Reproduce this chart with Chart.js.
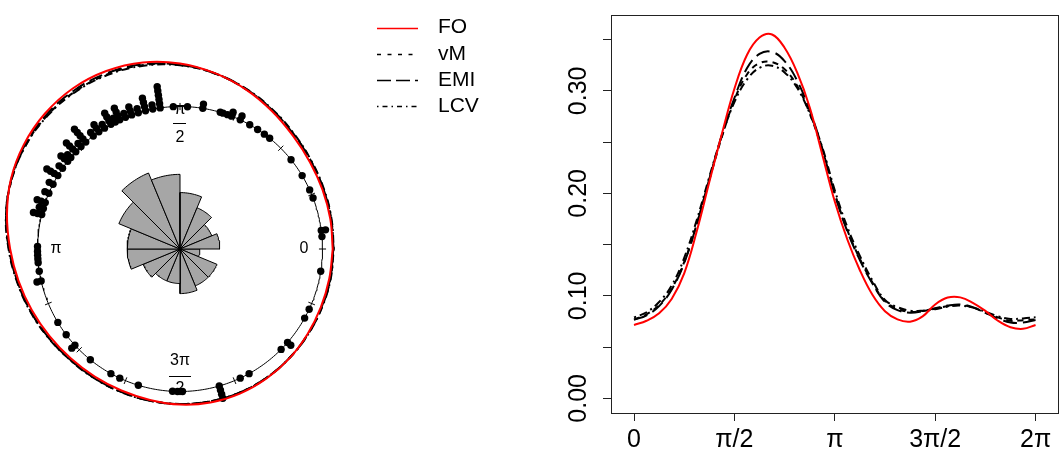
<!DOCTYPE html>
<html lang="en">
<head>
<meta charset="utf-8">
<script src="https://cdn.jsdelivr.net/npm/chart.js"></script>
<title>Circular density estimates</title>
<style>
  body { margin: 0; background: #fff; }
  #wrap { position: relative; width: 1061px; height: 456px; overflow: hidden; }
  #circ { position: absolute; left: 0; top: 0; }
  #dens { position: absolute; left: 540px; top: 0; }
</style>
</head>
<body>
<div id="wrap">
  <canvas id="circ" width="540" height="456"></canvas>
  <canvas id="dens" width="521" height="456"></canvas>
</div>
<script>
const seriesNames = ['FO', 'vM', 'EMI', 'LCV'];
const seriesColors = ['#ff0000', '#000000', '#000000', '#000000'];
const lineDash = [[], [6, 5], [14, 6], [2, 4, 8, 4]];
const keyDash = [[], [4, 6.5], [14, 5], [1.5, 4, 5, 4]];

// density estimates on a 0..2pi grid, step pi/16
const densFO  = [0.0716, 0.0757, 0.083, 0.097, 0.122, 0.163, 0.211, 0.258, 0.302, 0.335, 0.352, 0.355, 0.342,
                 0.318, 0.284, 0.238, 0.192, 0.155, 0.125, 0.101, 0.085, 0.077, 0.0748, 0.080, 0.0916, 0.0983,
                 0.0985, 0.0932, 0.0853, 0.0757, 0.0694, 0.0678, 0.0716];
const densVM  = [0.077, 0.082, 0.091, 0.107, 0.133, 0.170, 0.213, 0.255, 0.291, 0.316, 0.327, 0.328, 0.321,
                 0.305, 0.278, 0.243, 0.200, 0.164, 0.136, 0.113, 0.0948, 0.0875, 0.0843, 0.0853, 0.0875, 0.090,
                 0.091, 0.0885, 0.0837, 0.079, 0.0757, 0.0763, 0.077];
const densEMI = [0.0765, 0.081, 0.090, 0.106, 0.132, 0.170, 0.214, 0.257, 0.293, 0.322, 0.336, 0.338, 0.329,
                 0.310, 0.281, 0.244, 0.199, 0.163, 0.135, 0.112, 0.094, 0.086, 0.0835, 0.085, 0.088, 0.0905,
                 0.0915, 0.089, 0.0835, 0.078, 0.074, 0.074, 0.0765];
const densLCV = [0.079, 0.084, 0.094, 0.110, 0.137, 0.174, 0.216, 0.256, 0.289, 0.311, 0.3225, 0.3245, 0.318,
                 0.303, 0.278, 0.245, 0.203, 0.167, 0.139, 0.115, 0.096, 0.089, 0.0855, 0.0855, 0.087, 0.0895,
                 0.0905, 0.0885, 0.0845, 0.080, 0.0775, 0.078, 0.079];
const densities = [densFO, densVM, densEMI, densLCV];
const gridAngles = densFO.map((_, i) => i * Math.PI / 16);

// observations (degrees) and how many share each spot
const dotAngles = [5, 7.5, 21, 24.5, 31, 38.8, 51, 53.7, 57, 60.7, 65, 68.8, 70.5, 72.4, 73.6, 80.8, 87,
                   92.7, 98, 101, 104, 107, 109.8, 112.5, 115, 117, 119, 122, 124.7, 127.5, 131.4, 134,
                   137, 140, 142, 145.5, 149, 153, 157, 161, 163.5, 166, 179,
                   181, 182.5, 184, 185.5, 189, 193, 211, 217, 222.5, 231, 241, 245, 253, 267, 269,
                   271, 286, 295, 299, 315.2, 319, 331, 335, 351];
const dotStacks = [1, 2, 1, 1, 1, 1, 1, 1, 1, 1, 2, 2, 1, 1, 1, 2, 1,
                   1, 6, 2, 4, 2, 3, 2, 4, 2, 4, 2, 3, 2, 5, 2,
                   4, 2, 3, 2, 4, 2, 2, 3, 2, 3, 1,
                   1, 1, 1, 1, 1, 2, 1, 1, 2, 1, 1, 1, 1, 1, 1,
                   1, 4, 1, 1, 1, 2, 1, 1, 1];

// rose diagram: counts in 16 bins of 22.5 degrees, counter-clockwise from 0
const roseCounts = [4, 3, 5, 8, 14, 17, 11, 7, 7, 4, 3, 3, 5, 4, 4, 1];

const xTickValues = [0, Math.PI / 2, Math.PI, 3 * Math.PI / 2, 2 * Math.PI];
const xTickLabels = ['0', 'π/2', 'π', '3π/2', '2π'];
const yTickValues = [0, 0.05, 0.1, 0.15, 0.2, 0.25, 0.3, 0.35];
const yTickLabels = ['0.00', '', '0.10', '', '0.20', '', '0.30', ''];

const FONT = '"Liberation Sans", Arial, Helvetica, sans-serif';
const rad = d => d * Math.PI / 180;
const onCircle = (a, r) => ({ x: r * Math.cos(a), y: r * Math.sin(a) });

// ---------- circular plot ----------
const unitPx = 142.5, cx = 180, cy = 249;
const stackStep = 0.03, roseScale = 1.4, binWidth = 360 / roseCounts.length;

const leftSets = [];
densities.forEach((dens, k) => leftSets.push({
  data: gridAngles.map((t, i) => onCircle(t, 1 + dens[i])),
  borderColor: seriesColors[k], borderWidth: 2, borderDash: lineDash[k],
  tension: 0.4, pointRadius: 0
}));

const dots = [];
dotAngles.forEach((deg, i) => {
  for (let k = 0; k < dotStacks[i]; k++) dots.push(onCircle(rad(deg), 1 + k * stackStep));
});
leftSets.push({ data: dots, showLine: false, pointRadius: 3.7,
  pointBackgroundColor: '#000', pointBorderWidth: 0 });

const tickPts = [];
roseCounts.forEach((_, b) => {
  const a = rad(b * binWidth);
  tickPts.push(onCircle(a, 0.975), onCircle(a, 1.025), { x: 0, y: null });
});
leftSets.push({ data: tickPts, borderColor: '#000', borderWidth: 1, pointRadius: 0, spanGaps: false });
leftSets.push({ data: Array.from({ length: 361 }, (_, i) => onCircle(rad(i), 1)),
  borderColor: '#000', borderWidth: 1, pointRadius: 0 });

const total = roseCounts.reduce((a, b) => a + b, 0);
roseCounts.forEach((c, b) => {
  const r = roseScale * Math.sqrt(c / total);
  const pts = [{ x: 0, y: 0 }];
  for (let s = 0; s <= 12; s++) pts.push(onCircle(rad(b * binWidth + s * binWidth / 12), r));
  pts.push({ x: 0, y: 0 });
  leftSets.push({ data: pts, borderColor: '#000', borderWidth: 1, backgroundColor: '#a6a6a6',
    fill: 'shape', pointRadius: 0, tension: 0 });
});

const circleText = {
  id: 'circleText',
  afterDatasetsDraw(chart) {
    const { ctx, scales: { x, y } } = chart;
    ctx.save();
    ctx.fillStyle = '#000';
    ctx.font = '16px ' + FONT;
    ctx.textAlign = 'center';
    ctx.textBaseline = 'middle';
    ctx.fillText('0', x.getPixelForValue(0.87), y.getPixelForValue(0));
    ctx.fillText('π', x.getPixelForValue(-0.87), y.getPixelForValue(0));
    const fraction = (top, bottom, px, py, gapUp, gapDown) => {
      const w = Math.max(ctx.measureText(top).width, ctx.measureText(bottom).width) + 2;
      ctx.fillText(top, px, py - gapUp);
      ctx.fillRect(Math.round(px - w / 2), Math.round(py), Math.round(w), 1);
      ctx.fillText(bottom, px, py + gapDown);
    };
    fraction('π', '2', x.getPixelForValue(0), y.getPixelForValue(0.881), 14, 14);
    fraction('3π', '2', x.getPixelForValue(0), y.getPixelForValue(-0.891), 15, 13);
    ctx.restore();
  }
};

const keyBox = {
  id: 'keyBox',
  afterDraw(chart) {
    const ctx = chart.ctx;
    ctx.save();
    ctx.font = '21px ' + FONT;
    ctx.textBaseline = 'middle';
    seriesNames.forEach((name, i) => {
      const y = 27.5 + i * 26.3;
      ctx.strokeStyle = seriesColors[i];
      ctx.lineWidth = 1.3;
      ctx.setLineDash(keyDash[i]);
      ctx.beginPath();
      ctx.moveTo(377, Math.round(y) + 0.5);
      ctx.lineTo(418, Math.round(y) + 0.5);
      ctx.stroke();
      ctx.setLineDash([]);
      ctx.fillStyle = '#000';
      ctx.fillText(name, 438, y);
    });
    ctx.restore();
  }
};

new Chart(document.getElementById('circ'), {
  type: 'line',
  data: { datasets: leftSets },
  options: {
    responsive: false,
    animation: false,
    events: [],
    layout: { padding: 0, autoPadding: false },
    plugins: { legend: { display: false }, tooltip: { enabled: false } },
    scales: {
      x: { type: 'linear', display: false, min: -cx / unitPx, max: (540 - cx) / unitPx },
      y: { type: 'linear', display: false, min: -(456 - cy) / unitPx, max: cy / unitPx }
    }
  },
  plugins: [circleText, keyBox]
});

// ---------- linear density plot ----------
const frame = {
  id: 'frame',
  afterDraw(chart) {
    const { ctx, chartArea: a } = chart;
    ctx.save();
    ctx.strokeStyle = '#222';
    ctx.lineWidth = 1;
    ctx.strokeRect(Math.round(a.left) + 0.5, Math.round(a.top) + 0.5,
      Math.round(a.right - a.left) - 1, Math.round(a.bottom - a.top));
    ctx.restore();
  }
};

new Chart(document.getElementById('dens'), {
  type: 'line',
  data: {
    datasets: densities.map((dens, k) => ({
      label: seriesNames[k],
      data: gridAngles.map((t, i) => ({ x: t, y: dens[i] })),
      borderColor: seriesColors[k],
      borderWidth: 2,
      borderDash: lineDash[k],
      tension: 0.4,
      pointRadius: 0
    }))
  },
  options: {
    responsive: false,
    animation: false,
    events: [],
    layout: { padding: { top: 6, right: 2, left: 0, bottom: 0 }, autoPadding: false },
    plugins: { legend: { display: false }, tooltip: { enabled: false } },
    scales: {
      x: {
        type: 'linear', min: -0.36, max: 6.65,
        afterBuildTicks: s => { s.ticks = xTickValues.map(v => ({ value: v })); },
        afterFit: s => { s.height = 43; },
        border: { display: false },
        grid: { drawOnChartArea: false, tickLength: 8, color: '#222', tickColor: '#222', tickWidth: 1 },
        ticks: { autoSkip: false, maxRotation: 0, padding: 4, color: '#000',
          font: { family: FONT, size: 25 }, callback: (v, i) => xTickLabels[i] }
      },
      y: {
        type: 'linear', min: -0.0143, max: 0.374,
        afterBuildTicks: s => { s.ticks = yTickValues.map(v => ({ value: v })); },
        afterFit: s => { s.width = 71; },
        border: { display: false },
        grid: { drawOnChartArea: false, tickLength: 8, color: '#222', tickColor: '#222', tickWidth: 1 },
        ticks: { autoSkip: false, minRotation: 90, maxRotation: 90, crossAlign: 'center', padding: 0,
          color: '#000', font: { family: FONT, size: 25 }, callback: (v, i) => yTickLabels[i] }
      }
    }
  },
  plugins: [frame]
});
</script>
</body>
</html>
